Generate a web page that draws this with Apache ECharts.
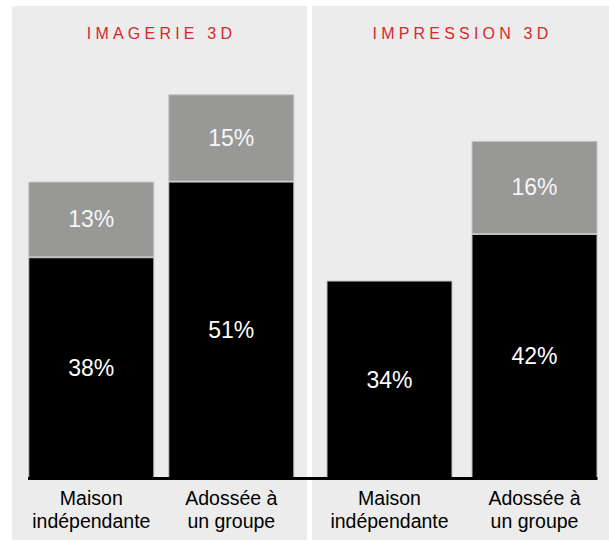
<!DOCTYPE html>
<html>
<head>
<meta charset="utf-8">
<style>
  html, body { margin: 0; padding: 0; background: #ffffff; }
  #chart { width: 609px; height: 542px; }
  /* spaced-out capitals for the panel headings */
  #chart svg text[fill="#d7282f"], #chart svg text[style*="#d7282f"] { letter-spacing: 4.2px; }
</style>
<script src="https://cdn.jsdelivr.net/npm/echarts@6/dist/echarts.min.js"></script>
</head>
<body>
<div id="chart"></div>
<script>
// Categories shared by both panels
const categories = ['Maison\nindépendante', 'Adossée à\nun groupe'];

// Panel headings
const panelTitles = ['IMAGERIE 3D', 'IMPRESSION 3D'];

// Imagerie 3D: base share (black) and additional share (grey), in %
const imagerieBase = [38, 51];
const imagerieExtra = [13, 15];

// Impression 3D: base share (black) and additional share (grey), in %
const impressionBase = [34, 42];
const impressionExtra = [null, 16];

const FONT = 'Liberation Sans, Arial, Helvetica, sans-serif';
const PANEL_BG = '#ececec';
const GREY = '#989896';
const RED = '#d7282f';

const chart = echarts.init(document.getElementById('chart'), null, { renderer: 'svg' });

function valueLabel(color) {
  return {
    show: true,
    position: 'inside',
    formatter: '{c}%',
    color: color,
    fontFamily: FONT,
    fontSize: 23
  };
}

function stackSeries(idx, base, extra) {
  return [
    {
      type: 'bar', xAxisIndex: idx, yAxisIndex: idx, stack: 's' + idx,
      data: base, barWidth: 126,
      itemStyle: { color: '#000000', borderColor: '#bdbdbd', borderWidth: 1 },
      label: valueLabel('#ffffff'),
      z: 2
    },
    {
      type: 'bar', xAxisIndex: idx, yAxisIndex: idx, stack: 's' + idx,
      data: extra, barWidth: 126,
      itemStyle: { color: GREY, borderColor: '#c4c4c4', borderWidth: 1 },
      label: valueLabel('#f6f6f6'),
      z: 2
    }
  ];
}

function xAxis(idx) {
  return {
    type: 'category', gridIndex: idx, data: categories,
    axisLine: { show: false }, axisTick: { show: false },
    axisLabel: {
      color: '#000000', fontFamily: FONT, fontSize: 19.5, lineHeight: 23,
      margin: 8, interval: 0
    }
  };
}

function yAxis(idx) {
  return {
    type: 'value', gridIndex: idx, min: 0, max: 70,
    show: false, splitLine: { show: false }
  };
}

const panels = [
  { type: 'rect', shape: { x: 12, y: 6, width: 295, height: 534 }, style: { fill: PANEL_BG }, z: -10 },
  { type: 'rect', shape: { x: 312, y: 6, width: 297, height: 534 }, style: { fill: PANEL_BG }, z: -10 }
];

const option = {
  animation: false,
  backgroundColor: '#ffffff',
  title: [
    {
      text: panelTitles[0], left: 161.5, top: 25, textAlign: 'center', padding: 0,
      textStyle: { color: RED, fontFamily: FONT, fontSize: 16, fontWeight: 'normal' }
    },
    {
      text: panelTitles[1], left: 462.5, top: 25, textAlign: 'center', padding: 0,
      textStyle: { color: RED, fontFamily: FONT, fontSize: 16, fontWeight: 'normal' }
    }
  ],
  graphic: panels,
  grid: [
    { left: 21.3, width: 280, top: 71, bottom: 63.5 },
    { left: 317, width: 290, top: 71, bottom: 63.5 }
  ],
  xAxis: [xAxis(0), xAxis(1)],
  yAxis: [yAxis(0), yAxis(1)],
  series: [
    ...stackSeries(0, imagerieBase, imagerieExtra),
    ...stackSeries(1, impressionBase, impressionExtra)
  ]
};

chart.setOption(option);

// Common baseline running under both panels at the zero of the value axis
const zeroY = chart.convertToPixel({ yAxisIndex: 0 }, 0);
chart.setOption({
  graphic: panels.concat([
    { type: 'line', shape: { x1: 28, y1: zeroY, x2: 597.5, y2: zeroY }, style: { stroke: '#000000', lineWidth: 3 }, z: 10 }
  ])
});
</script>
</body>
</html>
